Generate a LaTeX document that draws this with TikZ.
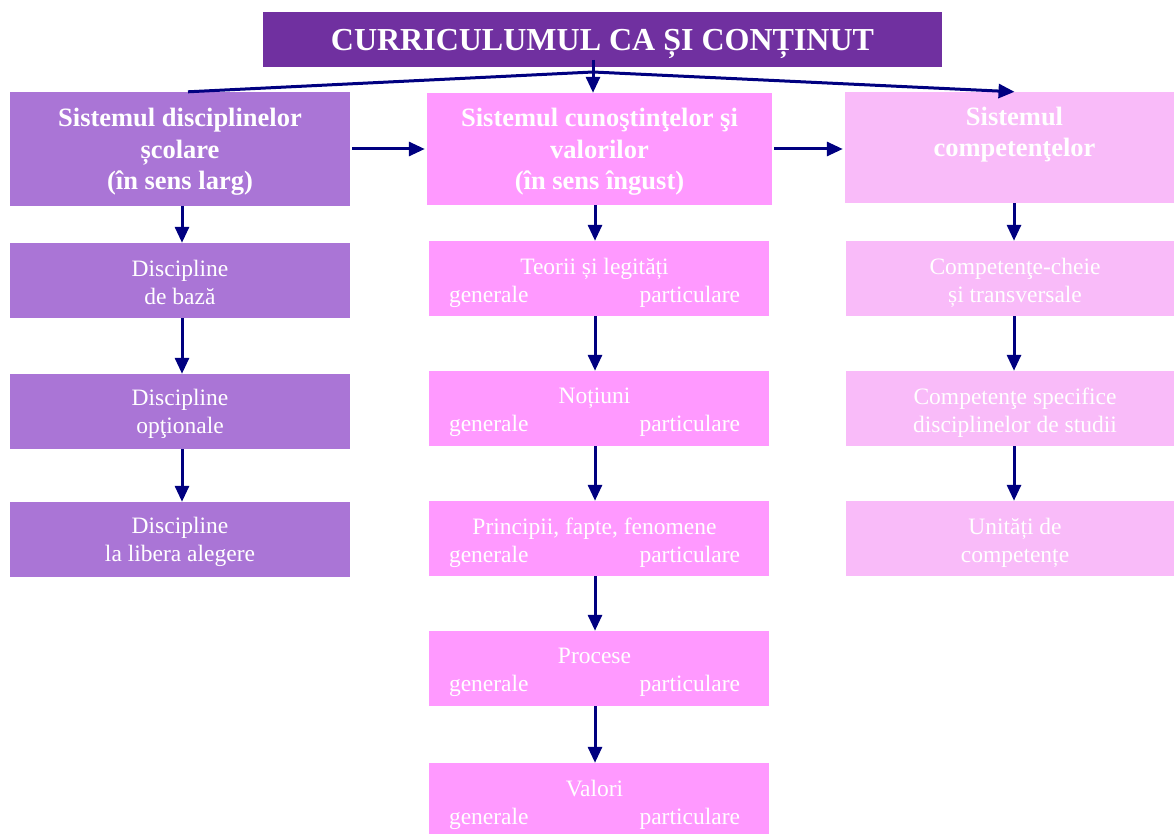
\documentclass[tikz,border=0pt]{standalone}
\usepackage{fontspec}
\setmainfont{Liberation Serif}
\usetikzlibrary{arrows.meta,calc}

\definecolor{titlepurple}{HTML}{7030A0}
\definecolor{lilac}{HTML}{AA75D6}
\definecolor{pinkmid}{HTML}{FF99FF}
\definecolor{pinklight}{HTML}{F9BBF9}
\definecolor{arrownavy}{HTML}{000080}

\tikzset{
  box/.style={rectangle, draw=none, inner sep=0pt},
  txt/.style={inner sep=0pt, text=white, align=center},
  headtxt/.style={txt, font=\bfseries\fontsize{26.5}{31.5}\selectfont},
  subtxt/.style={txt, font=\fontsize{23.5}{28}\selectfont},
  link/.style={draw=arrownavy, line width=3pt,
    -{Triangle[length=16pt,width=14pt]}},
  plainlink/.style={draw=arrownavy, line width=3pt},
}

% two-column row of the middle boxes
\newcommand{\genpart}{\makebox[291pt]{generale\hfill particulare}}

\begin{document}
\begin{tikzpicture}[x=1pt,y=-1pt]
\useasboundingbox (0,0) rectangle (1174,834);
\fill[white] (0,0) rectangle (1174,834);

% title
\node[box, fill=titlepurple, minimum width=679pt, minimum height=55pt] (title) at (602.5,39.5) {};
\node[txt, font=\bfseries\fontsize{32}{38}\selectfont] (titletext) at ($(title)+(0,4)$)
  {CURRICULUMUL CA ȘI CONȚINUT};

% left column
\node[box, fill=lilac, minimum width=340pt, minimum height=114pt] (L0) at (180,149) {};
\node[box, fill=lilac, minimum width=340pt, minimum height=75pt] (L1) at (180,280.5) {};
\node[box, fill=lilac, minimum width=340pt, minimum height=75pt] (L2) at (180,411.5) {};
\node[box, fill=lilac, minimum width=340pt, minimum height=75pt] (L3) at (180,539.5) {};
\node[headtxt] (L0t) at ($(L0)+(0,3)$) {Sistemul disciplinelor\\școlare\\(în sens larg)};
\node[subtxt] (L1t) at ($(L1)+(0,2)$) {Discipline\\de bază};
\node[subtxt] (L2t) at ($(L2)+(0,2)$) {Discipline\\opţionale};
\node[subtxt] (L3t) at ($(L3)+(0,2)$) {Discipline\\la libera alegere};

% middle column
\node[box, fill=pinkmid, minimum width=345pt, minimum height=112pt] (M0) at (599.5,149) {};
\node[box, fill=pinkmid, minimum width=340pt, minimum height=75pt] (M1) at (599,278.5) {};
\node[box, fill=pinkmid, minimum width=340pt, minimum height=75pt] (M2) at (599,408.5) {};
\node[box, fill=pinkmid, minimum width=340pt, minimum height=75pt] (M3) at (599,538.5) {};
\node[box, fill=pinkmid, minimum width=340pt, minimum height=75pt] (M4) at (599,668.5) {};
\node[box, fill=pinkmid, minimum width=340pt, minimum height=75pt] (M5) at (599,800.5) {};
\node[headtxt] (M0t) at ($(M0)+(0,3)$) {Sistemul cunoştinţelor şi\\valorilor\\(în sens îngust)};
\node[subtxt] (M1t) at ($(M1)+(-4.5,4)$) {Teorii și legități\\\genpart};
\node[subtxt] (M2t) at ($(M2)+(-4.5,4)$) {Noțiuni\\\genpart};
\node[subtxt] (M3t) at ($(M3)+(-4.5,4)$) {Principii, fapte, fenomene\\\genpart};
\node[subtxt] (M4t) at ($(M4)+(-4.5,4)$) {Procese\\\genpart};
\node[subtxt] (M5t) at ($(M5)+(-4.5,4)$) {Valori\\\genpart};

% right column
\node[box, fill=pinklight, minimum width=329pt, minimum height=111pt] (R0) at (1009.5,147.5) {};
\node[box, fill=pinklight, minimum width=328pt, minimum height=75pt] (R1) at (1010,278.5) {};
\node[box, fill=pinklight, minimum width=328pt, minimum height=75pt] (R2) at (1010,408.5) {};
\node[box, fill=pinklight, minimum width=328pt, minimum height=75pt] (R3) at (1010,538.5) {};
\node[headtxt] (R0t) at ($(R0)+(5,-13)$) {Sistemul\\competenţelor};
\node[subtxt] (R1t) at ($(R1)+(5,4)$) {Competenţe-cheie\\și transversale};
\node[subtxt] (R2t) at ($(R2)+(5,4)$) {Competenţe specifice\\disciplinelor de studii};
\node[subtxt] (R3t) at ($(R3)+(5,4)$) {Unități de\\competențe};

% branching under the title
\coordinate (stem) at (593,60);
\coordinate (hub) at (593,72);
\draw[link] (stem) -- (stem |- M0.north);
\draw[plainlink] (hub) -- ($(L0.north)+(8,0)$);
\draw[link] (hub) -- ($(R0.north)+(5,0)$);

% links between the column heads
\draw[link, shorten <=2pt, shorten >=2pt] (L0.east) -- (L0.east -| M0.west);
\draw[link, shorten <=2pt, shorten >=2pt] (M0.east) -- (M0.east -| R0.west);

% downward chains
\foreach \a/\b in {L0/L1, L1/L2, L2/L3}
  \draw[link] ($(\a.south)+(2,0)$) -- ($(\b.north)+(2,0)$);
\foreach \a/\b in {M0/M1, M1/M2, M2/M3, M3/M4, M4/M5}
  \draw[link] ($(\a.south -| M1.north)+(-4,0)$) -- ($(\b.north)+(-4,0)$);
\foreach \a/\b in {R0/R1, R1/R2, R2/R3}
  \draw[link] ($(\a.south -| R1.north)+(4,0)$) -- ($(\b.north)+(4,0)$);
\end{tikzpicture}
\end{document}
